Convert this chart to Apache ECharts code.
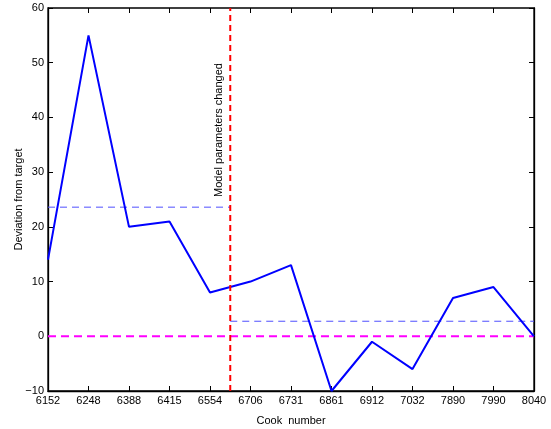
<!DOCTYPE html>
<html><head><meta charset="utf-8">
<script src="https://cdn.jsdelivr.net/npm/echarts@6/dist/echarts.min.js"></script>
<style>html,body{margin:0;padding:0;background:#fff}#c{width:551px;height:429px}</style>
</head><body><div id="c"></div>
<script>
const categories = ['6152','6248','6388','6415','6554','6706','6731','6861','6912','7032','7890','7990','8040'];
const deviation = [14, 55, 20, 21, 8, 10, 13, -10, -1, -6, 7, 9, 0];
const changeIndex = 4.5;
const meanBefore = 23.6;
const meanAfter = 2.75;
const yTicks = {min: -10, max: 60, interval: 10};

const chart = echarts.init(document.getElementById('c'));
const font = 'Liberation Sans, Arial, sans-serif';
const last = categories.length - 1;
chart.setOption({
  animation: false,
  grid: {left: 48, right: 17, top: 8, bottom: 38, show: true, borderColor: '#000', borderWidth: 1.3,
         containLabel: false, outerBoundsMode: 'none'},
  xAxis: [
    {type: 'category', data: categories, boundaryGap: false, position: 'bottom',
     name: 'Cook  number', nameLocation: 'middle', nameGap: 24, nameMoveOverlap: false,
     nameTextStyle: {fontFamily: font, fontSize: 11, color: '#000'},
     axisLine: {onZero: false, lineStyle: {color: '#000', width: 1.3}},
     axisTick: {inside: true, length: 5, alignWithLabel: true, lineStyle: {color: '#000'}},
     axisLabel: {fontFamily: font, fontSize: 11, color: '#000', margin: 4, interval: 0},
     splitLine: {show: false}},
    {type: 'value', min: 0, max: last, show: false, axisLine: {onZero: false}},
    {type: 'category', data: categories, boundaryGap: false, position: 'top',
     axisLine: {show: false, onZero: false}, axisLabel: {show: false},
     axisTick: {inside: true, length: 5, lineStyle: {color: '#000'}}}
  ],
  yAxis: [
    {type: 'value', min: yTicks.min, max: yTicks.max, interval: yTicks.interval,
     name: 'Deviation from target', nameLocation: 'middle', nameGap: 24, nameMoveOverlap: false,
     nameTextStyle: {fontFamily: font, fontSize: 11, color: '#000'},
     axisLine: {show: true, onZero: false, lineStyle: {color: '#000', width: 1.3}},
     axisTick: {show: true, inside: true, length: 5, lineStyle: {color: '#000'}},
     axisLabel: {fontFamily: font, fontSize: 11, color: '#000', margin: 4,
       formatter: v => String(v).replace('-', '\u2212')},
     splitLine: {show: false}},
    {type: 'value', min: yTicks.min, max: yTicks.max, interval: yTicks.interval, position: 'right',
     axisLine: {show: true, onZero: false, lineStyle: {color: '#000', width: 1.3}},
     axisTick: {show: true, inside: true, length: 5, lineStyle: {color: '#000'}},
     axisLabel: {show: false}, splitLine: {show: false}}
  ],
  series: [
    {type: 'line', xAxisIndex: 1, yAxisIndex: 0, symbol: 'none', silent: true,
     data: [[0, 0], [last, 0]],
     lineStyle: {color: '#ff00ff', width: 2, type: [8, 5]}},
    {type: 'line', xAxisIndex: 1, yAxisIndex: 0, symbol: 'none', silent: true,
     data: [[0, meanBefore], [changeIndex, meanBefore]],
     lineStyle: {color: '#4f4fff', width: 1, type: [7, 5]}},
    {type: 'line', xAxisIndex: 1, yAxisIndex: 0, symbol: 'none', silent: true,
     data: [[changeIndex, meanAfter], [last, meanAfter]],
     lineStyle: {color: '#4f4fff', width: 1, type: [7, 5]}},
    {type: 'line', xAxisIndex: 0, yAxisIndex: 0, symbol: 'none',
     data: deviation,
     lineStyle: {color: '#0000ff', width: 2}},
    {type: 'line', xAxisIndex: 1, yAxisIndex: 0, symbol: 'none', silent: true,
     data: [[changeIndex, yTicks.min], [changeIndex, yTicks.max]],
     lineStyle: {color: '#ff0000', width: 2, type: [6, 4]}}
  ],
  graphic: [
    {type: 'text', x: 213, y: 197, rotation: Math.PI / 2,
     style: {text: 'Model parameters changed', fontFamily: font, fontSize: 11, fill: '#000',
             textAlign: 'left', textVerticalAlign: 'top'}}
  ]
});
</script></body></html>
